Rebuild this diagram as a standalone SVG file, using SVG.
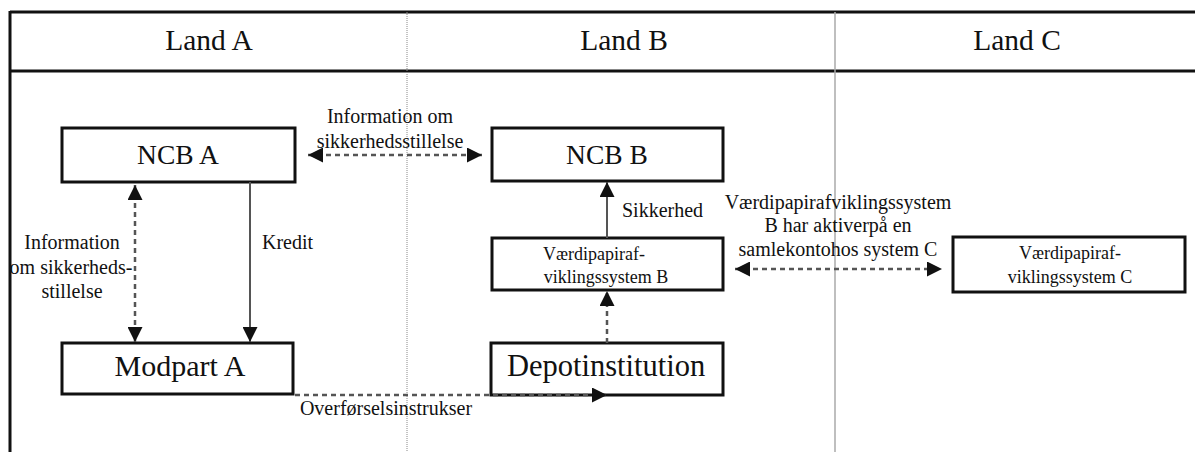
<svg xmlns="http://www.w3.org/2000/svg" width="1195" height="452" viewBox="0 0 1195 452">
<style>
.frame{stroke:#111;stroke-width:3;fill:none}
.div1{stroke:#888;stroke-width:1;stroke-dasharray:1 1;fill:none}
.div2{stroke:#aaa;stroke-width:1.5;fill:none}
.box{fill:#fff;stroke:#111;stroke-width:3}
.t{font-family:"Liberation Serif","DejaVu Serif","Noto Serif",serif;fill:#111;text-anchor:middle}
.hdr{font-size:29.5px}
.big{font-size:27.5px}
.lbl{font-size:20px}
.bx{font-size:18px}
.dash{stroke:#555;stroke-width:2.5;stroke-dasharray:5 4;fill:none}
.solid{stroke:#555;stroke-width:2;fill:none}
</style>
<defs>
<marker id="ah" viewBox="0 0 10 10" refX="10" refY="5" markerWidth="17" markerHeight="15" markerUnits="userSpaceOnUse" orient="auto-start-reverse">
<path d="M0,0 L10,5 L0,10 Z" fill="#111"/>
</marker>
</defs>
<rect width="1195" height="452" fill="#fff"/>
<g id="frame">
<line class="frame" x1="10" y1="12" x2="1195" y2="12"/>
<line class="frame" x1="10" y1="71" x2="1195" y2="71"/>
<line class="frame" x1="10" y1="11" x2="10" y2="452"/>
<line class="div1" x1="407" y1="12" x2="407" y2="452"/>
<line class="div2" x1="835" y1="12" x2="835" y2="452"/>
<text class="t hdr" x="209" y="50">Land A</text>
<text class="t hdr" x="624" y="50">Land B</text>
<text class="t hdr" x="1017" y="50">Land C</text>
</g>
<g id="ncb-a">
<rect class="box" x="62" y="128" width="233" height="54"/>
<text class="t big" x="178" y="164">NCB A</text>
</g>
<g id="modpart-a">
<rect class="box" x="62" y="343" width="231" height="51"/>
<text class="t big" x="180" y="376" style="font-size:30px">Modpart A</text>
</g>
<g id="ncb-b">
<rect class="box" x="492" y="128" width="231" height="53"/>
<text class="t big" x="607" y="164">NCB B</text>
</g>
<g id="vp-b">
<rect class="box" x="492" y="238" width="231" height="52"/>
<text class="t bx" x="594" y="260">Værdipapiraf-</text>
<text class="t bx" x="606" y="283">viklingssystem B</text>
</g>
<g id="depot">
<rect class="box" x="491" y="343" width="232" height="52"/>
<text class="t big" x="606" y="376" style="font-size:30.5px">Depotinstitution</text>
</g>
<g id="vp-c">
<rect class="box" x="953" y="237" width="232" height="55"/>
<text class="t bx" x="1070" y="259">Værdipapiraf-</text>
<text class="t bx" x="1070" y="283">viklingssystem C</text>
</g>
<g id="connectors">
<line class="dash" x1="308" y1="155" x2="482" y2="155" marker-start="url(#ah)" marker-end="url(#ah)"/>
<line class="dash" x1="135" y1="185" x2="135" y2="342" marker-start="url(#ah)" marker-end="url(#ah)"/>
<line class="solid" x1="250" y1="182" x2="250" y2="342" marker-end="url(#ah)"/>
<line class="solid" x1="607" y1="238" x2="607" y2="182" marker-end="url(#ah)"/>
<line class="dash" x1="607" y1="343" x2="607" y2="291" marker-end="url(#ah)"/>
<line class="dash" x1="735" y1="269" x2="942" y2="269" marker-start="url(#ah)" marker-end="url(#ah)"/>
<line class="dash" x1="295" y1="395" x2="607" y2="395" marker-end="url(#ah)"/>
<text class="t lbl" x="390" y="123">Information om</text>
<text class="t lbl" x="390" y="148">sikkerhedsstillelse</text>
<text class="t lbl" x="72" y="249">Information</text>
<text class="t lbl" x="71" y="274">om sikkerheds-</text>
<text class="t lbl" x="72" y="298">stillelse</text>
<text class="t lbl" x="262" y="249" style="text-anchor:start">Kredit</text>
<text class="t lbl" x="622" y="217" style="text-anchor:start">Sikkerhed</text>
<text class="t lbl" x="838" y="209">Værdipapirafviklingssystem</text>
<text class="t lbl" x="838" y="232">B har aktiverpå en</text>
<text class="t lbl" x="838" y="256">samlekontohos system C</text>
<text class="t lbl" x="386" y="415">Overførselsinstrukser</text>
</g>
</svg>
